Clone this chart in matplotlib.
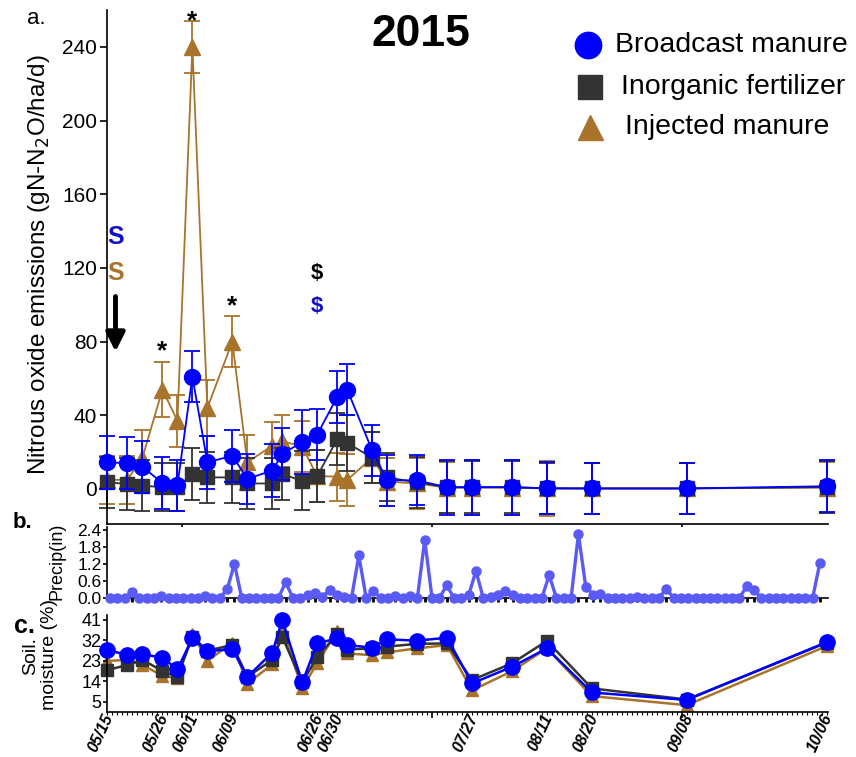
import matplotlib
matplotlib.use("Agg")
import matplotlib.pyplot as plt
from matplotlib.lines import Line2D
import numpy as np

plt.rcParams['font.family'] = ['Liberation Sans', 'DejaVu Sans']

# ---------------- data ----------------
# sampling dates (day of year, 2015)
doy = [135, 139, 142, 146, 149, 152, 155, 160, 163, 168, 170, 174, 177,
       181, 183, 188, 191, 197, 203, 208, 216, 223, 232, 251, 279]
date_labels = {135: '05/15', 146: '05/26', 152: '06/01', 160: '06/09',
               177: '06/26', 181: '06/30', 208: '07/27', 223: '08/11',
               232: '08/20', 251: '09/08', 279: '10/06'}

broadcast = [14.5, 14, 12, 3.3, 2, 61, 14.5, 18, 5.5, 10, 19, 25.5, 29.5,
             50, 54, 21, 4.7, 4.7, 0.9, 1, 1, 0.4, 0.3, 0.3, 1.5]
broadcast_err = [14.5, 14, 14, 14, 14, 14, 14.5, 14, 13.5, 14.5, 14, 17.5, 14,
                 14, 14, 14, 14, 13.5, 15, 15, 15, 14, 14, 14, 14]
inorganic = [3.6, 2.7, 1.8, 1, 1, 8, 6.3, 6.3, 3, 3, 8, 4.5, 7,
             27, 25, 17, 6.3, 3.6, 1, 1, 1, 0.3, 0.3, 0.3, 1]
inorganic_err = [14, 14, 14, 13, 13, 14, 14, 14, 14, 14, 14, 16, 14,
                 14, 15, 14, 13, 14, 14, 14, 14, 14, 14, 14, 14]
injected = [5, 5, 17, 54, 37, 240, 44, 80, 14.5, 23.5, 26, 23, 7,
            6.7, 4.9, 17, 4, 3, 0.7, 0.7, 0.7, 0.3, 0.3, 0.3, 0.8]
injected_err = [13, 13, 15, 15, 14, 14, 15, 14, 15, 13, 14, 14, 14,
                13, 14, 14, 13, 14, 14, 15, 15, 15, 14, 14, 14]

# precipitation (inches), sequential readings
precip = [0, 0, 0, 0.2, 0, 0, 0, 0.08, 0, 0, 0, 0, 0, 0.06, 0, 0, 0.3, 1.2,
          0, 0, 0, 0, 0, 0, 0.55, 0, 0, 0.1, 0.18, 0.05, 0.28, 0.12, 0.05, 0,
          1.5, 0, 0.25, 0, 0, 0.07, 0, 0.07, 0, 2.05, 0, 0, 0.45, 0, 0, 0.1,
          0.95, 0, 0.05, 0.1, 0.25, 0.1, 0, 0, 0, 0, 0.8, 0, 0, 0, 2.25, 0.4,
          0.12, 0.15, 0, 0, 0, 0, 0.05, 0, 0, 0, 0.33, 0, 0, 0, 0, 0, 0, 0,
          0, 0, 0, 0.42, 0.28, 0, 0, 0, 0, 0, 0, 0, 0, 1.25]

# soil moisture (%)
sm_broadcast = [27.8, 25.6, 25.9, 24.4, 19.3, 32.9, 27.3, 28.1, 16, 26.6, 41,
                13.5, 30.7, 32.9, 30, 28.8, 32.5, 31.9, 33.2, 13.1, 20.4, 28.5,
                9.1, 5.8, 31.2]
sm_inorganic = [19, 21.2, 23.5, 18.5, 16, 33.6, 27.5, 30, 16, 23.4, 33.6,
                13.5, 24.8, 34.7, 28, 28.5, 29.3, 30.5, 30.7, 14.6, 21.9, 31.8,
                10.9, 6, 31]
sm_injected = [23, 23.4, 21.2, 16.5, 15.3, 35, 23, 31, 13, 21.5, 37,
               11, 22, 36, 26.3, 25.5, 26.8, 28.5, 30, 10, 18.5, 28.5,
               7.5, 3.5, 29.5]

BLUE = '#0000FF'
BLACK = '#333333'
GOLD = '#A8732A'
PBLUE = '#5A5AF5'

W, H = 856, 757
fig = plt.figure(figsize=(W / 100, H / 100), dpi=100)


def axes_px(left, top, right, bottom):
    return fig.add_axes([left / W, 1 - bottom / H, (right - left) / W, (bottom - top) / H])


x0, x1 = 134.9, 279.3

# ---------------- panel a ----------------
ax = axes_px(107, 10, 828, 524)
series = [(injected, injected_err, GOLD, '^', 11, 1),
          (inorganic, inorganic_err, BLACK, 's', 10, 2),
          (broadcast, broadcast_err, BLUE, 'o', 11.5, 3)]
for vals, err, col, mk, ms, z in series:
    ax.errorbar(doy, vals, yerr=err, color=col, marker=mk, markersize=ms,
                lw=1.3, elinewidth=1.3, capsize=6, capthick=1.3, zorder=z,
                clip_on=False)
ax.set_xlim(x0, x1)
ax.set_ylim(-19, 260)
ax.set_yticks([0, 40, 80, 120, 160, 200, 240])
ax.set_xticks([150, 200, 250])
ax.tick_params(axis='x', labelbottom=False, length=4, width=1.2)
ax.tick_params(axis='y', labelsize=15, length=5, width=1.2, pad=2)
for s in ['top', 'right']:
    ax.spines[s].set_visible(False)
for s in ['left', 'bottom']:
    ax.spines[s].set_linewidth(1.2)

# annotations
ax.text(146, 75, '*', fontsize=19, fontweight='bold', ha='center', va='center')
ax.text(152, 254, '*', fontsize=19, fontweight='bold', ha='center', va='center')
ax.text(160, 99, '*', fontsize=19, fontweight='bold', ha='center', va='center')
ax.text(177, 117, '$', fontsize=16, fontweight='bold', ha='center', va='center', color='black')
ax.text(177, 99, '$', fontsize=16, fontweight='bold', ha='center', va='center', color='#1010C8')
ax.text(136.6, 137, 'S', fontsize=18, fontweight='bold', ha='center', va='center', color='#1010C8')
ax.text(136.6, 117, 'S', fontsize=18, fontweight='bold', ha='center', va='center', color=GOLD)
ax.annotate('', xy=(136.6, 73), xytext=(136.6, 106),
            arrowprops=dict(arrowstyle='-|>', lw=3.5, color='black', mutation_scale=28))

fig.text(39 / W, 1 - 265 / H, 'Nitrous oxide emissions (gN-N$_2$O/ha/d)', rotation=90,
         fontsize=17.5, ha='center', va='center')
fig.text(36 / W, 1 - 19 / H, 'a.', fontsize=16, ha='center', va='center')
fig.text(421 / W, 1 - 34 / H, '2015', fontsize=32, fontweight='bold', ha='center', va='center')

# legend (manual)
leg = [(BLUE, 'o', 19, 'Broadcast manure', 588, 45, 615),
       (BLACK, 's', 17, 'Inorganic fertilizer', 590, 87, 621),
       (GOLD, '^', 18, 'Injected manure', 590, 127, 625)]
for col, mk, ms, lab, mx, my, tx in leg:
    fig.add_artist(Line2D([mx / W], [1 - my / H], marker=mk, markersize=ms, color=col,
                          linestyle='none', transform=fig.transFigure))
    fig.text(tx / W, 1 - my / H, lab, fontsize=20.5, ha='left', va='center')

# ---------------- panel b ----------------
axp = axes_px(107, 527, 828, 598)
pidx = np.arange(len(precip))
axp.plot(pidx, precip, color=PBLUE, lw=2.4, marker='o', markersize=6.5, clip_on=False, zorder=3)
axp.set_xlim(-0.41, 98.1)
axp.set_ylim(0, 2.5)
axp.set_yticks([0.0, 0.6, 1.2, 1.8, 2.4])
axp.set_yticklabels(['0.0', '0.6', '1.2', '1.8', '2.4'])
rain_days = [i for i, v in enumerate(precip) if v > 0]
axp.set_xticks(rain_days)
axp.tick_params(axis='x', labelbottom=False, length=3, width=2)
axp.tick_params(axis='y', labelsize=12.5, length=3, width=1.2, pad=1)
for s in ['top', 'right']:
    axp.spines[s].set_visible(False)
for s in ['left', 'bottom']:
    axp.spines[s].set_linewidth(1.2)
fig.text(57 / W, 1 - 561 / H, 'Precip(in)', rotation=90, fontsize=13, ha='center', va='center')
fig.text(22 / W, 1 - 523 / H, 'b.', fontsize=16, fontweight='bold', ha='center', va='center')

# ---------------- panel c ----------------
axs = axes_px(107, 615, 828, 712)
sm_series = [(sm_injected, GOLD, '^', 9, 1),
             (sm_inorganic, BLACK, 's', 9, 2),
             (sm_broadcast, BLUE, 'o', 11, 3)]
for vals, col, mk, ms, z in sm_series:
    axs.plot(doy, vals, color=col, marker=mk, markersize=ms, lw=1.8, zorder=z, clip_on=False)
axs.set_xlim(x0, x1)
axs.set_ylim(0.5, 43.2)
axs.set_yticks([5, 14, 23, 32, 41])
axs.set_xticks([150, 200, 250])
axs.set_xticks(np.arange(135, 280, 1), minor=True)
axs.tick_params(axis='x', which='major', labelbottom=False, length=4, width=1.2)
axs.tick_params(axis='x', which='minor', length=2, width=0.8)
axs.tick_params(axis='y', labelsize=13, length=3, width=1.2, pad=1)
for s in ['top', 'right']:
    axs.spines[s].set_visible(False)
for s in ['left', 'bottom']:
    axs.spines[s].set_linewidth(1.2)
for d, lab in date_labels.items():
    axs.text(d + 0.4, -0.03, lab, transform=axs.get_xaxis_transform(), rotation=65,
             rotation_mode='anchor', ha='right', va='center', fontsize=11.5,
             fontweight='bold', fontstyle='italic')
fig.text(31 / W, 1 - 656 / H, 'Soil.', rotation=90, fontsize=14, ha='center', va='center')
fig.text(50 / W, 1 - 655 / H, 'moisture (%)', rotation=90, fontsize=14, ha='center', va='center')
fig.text(24 / W, 1 - 626 / H, 'c.', fontsize=18, fontweight='bold', ha='center', va='center')

fig.savefig('out.png', dpi=100)
